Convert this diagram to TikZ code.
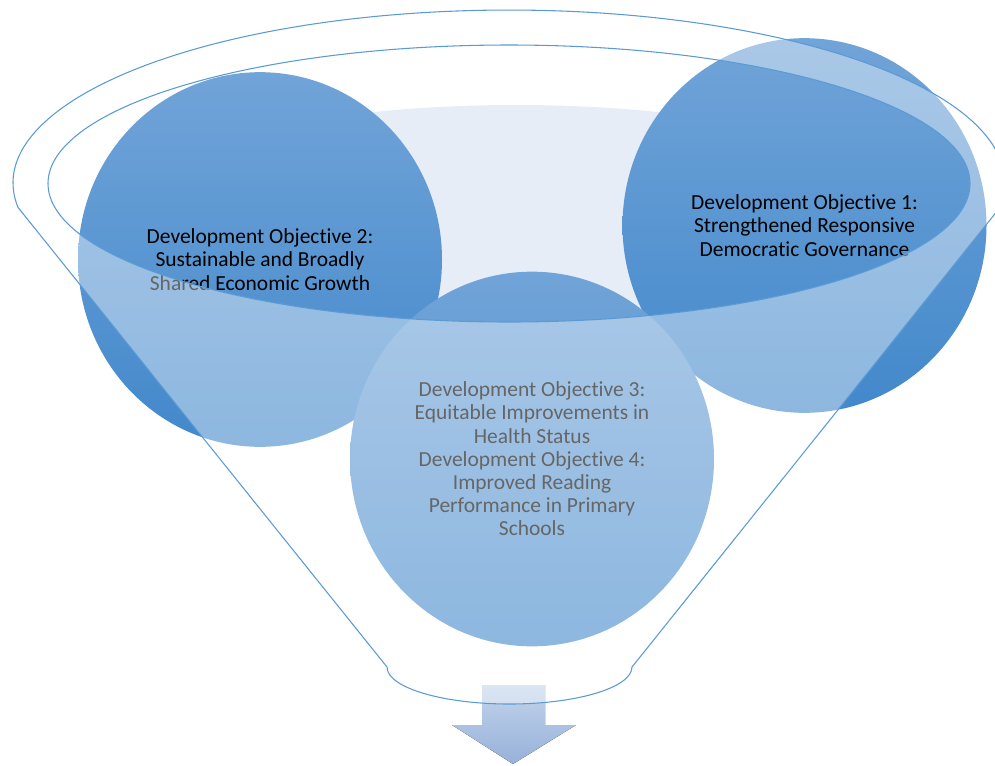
\documentclass[tikz,border=0pt]{standalone}
\usepackage{fontspec}
\setmainfont[Ligatures=NoCommon]{Carlito}
\usetikzlibrary{shapes.geometric}
\definecolor{funnelblue}{RGB}{91,155,213}
\definecolor{circtop}{RGB}{113,164,216}
\definecolor{circbot}{RGB}{66,136,203}
\definecolor{mouth}{RGB}{231,237,247}
\definecolor{arrtop}{RGB}{195,212,236}
\definecolor{arrbot}{RGB}{151,177,217}
\tikzset{%
	objective/.style = {ellipse, minimum width=273pt, minimum height=281pt, inner sep=0pt, top color=circtop, bottom color=circbot, align=center, font=\fontsize{16.1}{17.4}\selectfont},
	rim/.style       = {draw=funnelblue, line width=0.8pt},
	glass/.style     = {fill=white, fill opacity=0.4, even odd rule},
	outflow/.style   = {top color=arrtop, bottom color=arrbot},
}
\begin{document}
\begin{tikzpicture}[x=0.75pt, y=0.75pt]
	\useasboundingbox (0,0) rectangle (995,-765);
	\clip (0,0) rectangle (995,-765);
	
	\fill[mouth] (516,-230) ellipse [x radius=430, y radius=125];
	
	\node[objective] (do2) at (260,-259.5) {Development Objective 2:\\Sustainable and Broadly\\Shared Economic Growth};
	\node[objective] (do1) at (804.5,-225.5) {Development Objective 1:\\Strengthened Responsive\\Democratic Governance};
	\node[objective] (do34) at (532,-459) {Development Objective 3:\\Equitable Improvements in\\Health Status\\Development Objective 4:\\Improved Reading\\Performance in Primary\\Schools};
	
	\fill[outflow] (482,-685) -- (545,-685) -- (545,-725) -- (576,-725) -- (513,-764) -- (452,-725) -- (482,-725) -- cycle;
	
	% funnel body over the circles
	\path[glass] (18,-207.4) arc[start angle=188.1, end angle=-8.1, x radius=496, y radius=173] -- (632,-667) arc[start angle=0, end angle=-180, x radius=122.5, y radius=37] -- cycle (509,-183.5) ellipse [x radius=461, y radius=138.5];
	\draw[rim] (18,-207.4) arc[start angle=188.1, end angle=-8.1, x radius=496, y radius=173] -- (632,-667) arc[start angle=0, end angle=-180, x radius=122.5, y radius=37] -- cycle;
	\draw[rim] (509,-183.5) ellipse [x radius=461, y radius=138.5];
\end{tikzpicture}
\end{document}
